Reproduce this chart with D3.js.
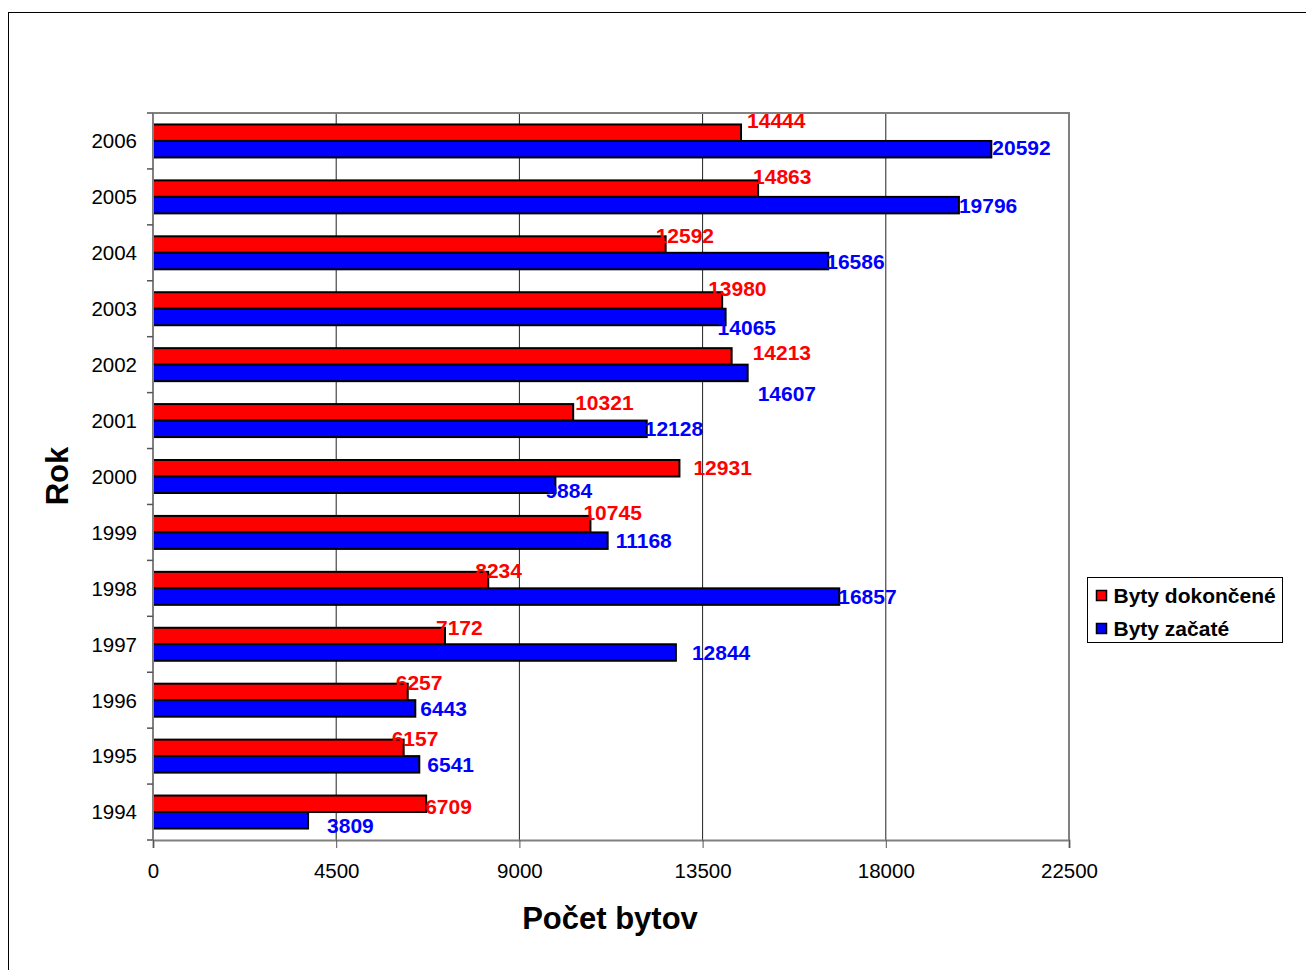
<!DOCTYPE html>
<html>
<head>
<meta charset="utf-8">
<script src="https://cdn.jsdelivr.net/npm/d3@7"></script>
<style>
  body { margin: 0; background: #fff; }
  svg { font-family: "Liberation Sans", Arial, sans-serif; }
</style>
</head>
<body>
<div id="chart"></div>
<script>
// data
var years = ['2006', '2005', '2004', '2003', '2002', '2001', '2000', '1999', '1998', '1997', '1996', '1995', '1994'];
var dokoncene = [14444, 14863, 12592, 13980, 14213, 10321, 12931, 10745, 8234, 7172, 6257, 6157, 6709];
var zacate = [20592, 19796, 16586, 14065, 14607, 12128, 9884, 11168, 16857, 12844, 6443, 6541, 3809];
var xTicks = [0, 4500, 9000, 13500, 18000, 22500];
var seriesNames = ['Byty dokončené', 'Byty začaté'];
var seriesColors = ['#ff0000', '#0000ff'];

// hand nudges of the value labels (dx, dy) as they sit in the original
var nudgeRed = [[4, -12], [-7, -12], [-12, -9], [-16, -12], [19, -4], [0, -10], [12, -1], [-9, -12], [-15, -10], [-11, -9], [-14, -10], [-14, -9], [-3, 3]];
var nudgeBlue = [[-1, -2], [-2, 0], [-4, 0], [-10, 10], [8, 21], [-4, 0], [-12, 6], [6, 0], [-3, 0], [14, 0], [3, 0], [6, 0], [17, 5]];

var W = 1306, H = 970,
    margin = {top: 113, left: 153, right: 237, bottom: 130},
    width = W - margin.left - margin.right,
    height = H - margin.top - margin.bottom;

var svg = d3.select('#chart').append('svg').attr('width', W).attr('height', H);

// outer chart frame (runs off the right and bottom edge)
svg.append('rect').attr('x', 8.5).attr('y', 12.5).attr('width', 1310).attr('height', 970)
  .attr('fill', 'none').attr('stroke', '#000').attr('stroke-width', 1);

var x = d3.scaleLinear().domain([0, 22500]).range([0, width]);
var y = d3.scaleBand().domain(years).range([0, height]).paddingInner(0.41).paddingOuter(0.205);
var sub = d3.scaleBand().domain([0, 1]).range([0, y.bandwidth()]);

var g = svg.append('g').attr('transform', 'translate(' + margin.left + ',' + margin.top + ')');

// vertical gridlines
g.selectAll('line.grid').data(xTicks.slice(1, -1)).enter().append('line')
  .attr('class', 'grid')
  .attr('x1', function (d) { return x(d); }).attr('x2', function (d) { return x(d); })
  .attr('y1', 0).attr('y2', height)
  .attr('stroke', '#222').attr('stroke-width', 1);

// plot frame top and right
g.append('path').attr('d', 'M0,0H' + width + 'V' + height)
  .attr('fill', 'none').attr('stroke', '#808080').attr('stroke-width', 2);

// bars
var rows = years.map(function (yr, i) {
  return [{s: 0, year: yr, v: dokoncene[i], n: nudgeRed[i]}, {s: 1, year: yr, v: zacate[i], n: nudgeBlue[i]}];
});

var cat = g.selectAll('g.cat').data(rows).enter().append('g')
  .attr('class', 'cat')
  .attr('transform', function (d) { return 'translate(0,' + y(d[0].year) + ')'; });

cat.selectAll('rect').data(function (d) { return d; }).enter().append('rect')
  .attr('x', 0)
  .attr('y', function (d) { return sub(d.s); })
  .attr('width', function (d) { return x(d.v); })
  .attr('height', sub.bandwidth())
  .attr('fill', function (d) { return seriesColors[d.s]; })
  .attr('stroke', '#000').attr('stroke-width', 2);

cat.selectAll('text').data(function (d) { return d; }).enter().append('text')
  .attr('x', function (d) { return x(d.v) + 2 + d.n[0]; })
  .attr('y', function (d) { return sub(d.s) + sub.bandwidth() / 2 + d.n[1]; })
  .attr('dy', '0.36em')
  .attr('fill', function (d) { return seriesColors[d.s]; })
  .attr('font-size', 21).attr('font-weight', 'bold')
  .text(function (d) { return d.v; });

// y axis: ticks sit between categories
var yAxis = g.append('g');
yAxis.append('line').attr('x1', 0).attr('x2', 0).attr('y1', 0).attr('y2', height)
  .attr('stroke', '#808080').attr('stroke-width', 2);
yAxis.selectAll('line.tk').data(d3.range(years.length + 1)).enter().append('line')
  .attr('class', 'tk')
  .attr('x1', -6).attr('x2', 0)
  .attr('y1', function (i) { return i * height / years.length; })
  .attr('y2', function (i) { return i * height / years.length; })
  .attr('stroke', '#555').attr('stroke-width', 1.5);
yAxis.selectAll('text').data(years).enter().append('text')
  .attr('x', -16)
  .attr('y', function (d) { return y(d) + y.bandwidth() / 2; })
  .attr('dy', '0.36em').attr('text-anchor', 'end')
  .attr('font-size', 20.5).attr('fill', '#000')
  .text(function (d) { return d; });

// x axis
var xAxis = g.append('g').attr('transform', 'translate(0,' + height + ')')
  .call(d3.axisBottom(x).tickValues(xTicks).tickSize(8).tickPadding(15).tickFormat(d3.format('d')));
xAxis.select('.domain').attr('stroke', '#808080').attr('stroke-width', 2);
xAxis.selectAll('.tick line').attr('stroke', '#555');
xAxis.selectAll('.tick text').attr('font-size', 20.5).attr('fill', '#000')
  .attr('font-family', '"Liberation Sans", Arial, sans-serif');

// axis titles
svg.append('text').attr('x', margin.left + width / 2 - 1).attr('y', 918).attr('dy', '0.36em')
  .attr('text-anchor', 'middle').attr('font-size', 31).attr('font-weight', 'bold')
  .text('Počet bytov');
svg.append('text').attr('transform', 'translate(57,476) rotate(-90)').attr('dy', '0.36em')
  .attr('text-anchor', 'middle').attr('font-size', 31).attr('font-weight', 'bold')
  .text('Rok');

// legend
var leg = svg.append('g').attr('transform', 'translate(1087.5,577.5)');
leg.append('rect').attr('width', 195).attr('height', 65)
  .attr('fill', '#fff').attr('stroke', '#000').attr('stroke-width', 1);
var item = leg.selectAll('g.item').data(seriesNames).enter().append('g')
  .attr('class', 'item')
  .attr('transform', function (d, i) { return 'translate(9,' + (18 + i * 33) + ')'; });
item.append('rect').attr('x', 0).attr('y', -5).attr('width', 10).attr('height', 10)
  .attr('fill', function (d, i) { return seriesColors[i]; })
  .attr('stroke', '#000').attr('stroke-width', 1.5);
item.append('text').attr('x', 17).attr('dy', '0.36em')
  .attr('font-size', 21).attr('font-weight', 'bold')
  .text(function (d) { return d; });
</script>
</body>
</html>
